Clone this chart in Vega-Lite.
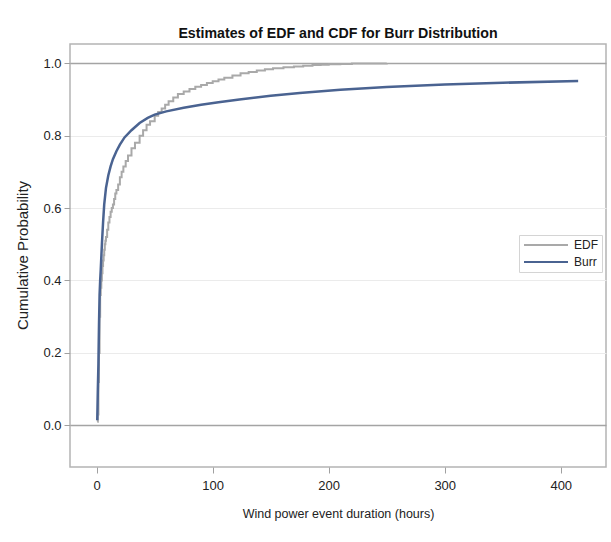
{
  "$schema": "https://vega.github.io/schema/vega-lite/v6.json",
  "width": 536,
  "height": 423,
  "autosize": {"type": "none"},
  "padding": {"left": 70, "top": 44, "right": 5, "bottom": 75},
  "background": "white",
  "title": {
    "text": "Estimates of EDF and CDF for Burr Distribution",
    "anchor": "middle",
    "font": "'Liberation Sans', sans-serif",
    "fontSize": 14.2,
    "fontWeight": "bold",
    "color": "#111111",
    "offset": 6,
    "dy": 3
  },
  "data": {
    "values": [
      {"series": "EDF", "hours": 0.5, "prob": 0.01},
      {"series": "EDF", "hours": 1, "prob": 0.03},
      {"series": "EDF", "hours": 1.5, "prob": 0.12},
      {"series": "EDF", "hours": 2, "prob": 0.2},
      {"series": "EDF", "hours": 2.5, "prob": 0.3},
      {"series": "EDF", "hours": 3, "prob": 0.36},
      {"series": "EDF", "hours": 3.5, "prob": 0.38},
      {"series": "EDF", "hours": 4, "prob": 0.4},
      {"series": "EDF", "hours": 4.5, "prob": 0.42},
      {"series": "EDF", "hours": 5, "prob": 0.44},
      {"series": "EDF", "hours": 5.5, "prob": 0.455},
      {"series": "EDF", "hours": 6, "prob": 0.47},
      {"series": "EDF", "hours": 6.5, "prob": 0.485},
      {"series": "EDF", "hours": 7, "prob": 0.5},
      {"series": "EDF", "hours": 7.5, "prob": 0.51},
      {"series": "EDF", "hours": 8, "prob": 0.52},
      {"series": "EDF", "hours": 9, "prob": 0.54},
      {"series": "EDF", "hours": 10, "prob": 0.56},
      {"series": "EDF", "hours": 11, "prob": 0.575},
      {"series": "EDF", "hours": 12, "prob": 0.59},
      {"series": "EDF", "hours": 13, "prob": 0.6},
      {"series": "EDF", "hours": 14, "prob": 0.61},
      {"series": "EDF", "hours": 15, "prob": 0.625},
      {"series": "EDF", "hours": 16, "prob": 0.64},
      {"series": "EDF", "hours": 17, "prob": 0.65},
      {"series": "EDF", "hours": 18.5, "prob": 0.665},
      {"series": "EDF", "hours": 20, "prob": 0.685},
      {"series": "EDF", "hours": 21.5, "prob": 0.7},
      {"series": "EDF", "hours": 23, "prob": 0.715},
      {"series": "EDF", "hours": 25, "prob": 0.73},
      {"series": "EDF", "hours": 27, "prob": 0.745},
      {"series": "EDF", "hours": 30, "prob": 0.765},
      {"series": "EDF", "hours": 33, "prob": 0.78},
      {"series": "EDF", "hours": 37, "prob": 0.8},
      {"series": "EDF", "hours": 40, "prob": 0.815},
      {"series": "EDF", "hours": 43, "prob": 0.83},
      {"series": "EDF", "hours": 46, "prob": 0.84},
      {"series": "EDF", "hours": 50, "prob": 0.855},
      {"series": "EDF", "hours": 53, "prob": 0.865},
      {"series": "EDF", "hours": 56, "prob": 0.875},
      {"series": "EDF", "hours": 59, "prob": 0.885},
      {"series": "EDF", "hours": 62, "prob": 0.895},
      {"series": "EDF", "hours": 66, "prob": 0.905},
      {"series": "EDF", "hours": 70, "prob": 0.915},
      {"series": "EDF", "hours": 75, "prob": 0.922},
      {"series": "EDF", "hours": 80, "prob": 0.929},
      {"series": "EDF", "hours": 85, "prob": 0.935},
      {"series": "EDF", "hours": 90, "prob": 0.94},
      {"series": "EDF", "hours": 95, "prob": 0.945},
      {"series": "EDF", "hours": 100, "prob": 0.95},
      {"series": "EDF", "hours": 105, "prob": 0.955},
      {"series": "EDF", "hours": 110, "prob": 0.96},
      {"series": "EDF", "hours": 117, "prob": 0.966},
      {"series": "EDF", "hours": 124, "prob": 0.972},
      {"series": "EDF", "hours": 131, "prob": 0.976},
      {"series": "EDF", "hours": 138, "prob": 0.98},
      {"series": "EDF", "hours": 145, "prob": 0.983},
      {"series": "EDF", "hours": 152, "prob": 0.986},
      {"series": "EDF", "hours": 161, "prob": 0.989},
      {"series": "EDF", "hours": 170, "prob": 0.991},
      {"series": "EDF", "hours": 178, "prob": 0.993},
      {"series": "EDF", "hours": 186, "prob": 0.995},
      {"series": "EDF", "hours": 193, "prob": 0.996},
      {"series": "EDF", "hours": 200, "prob": 0.997},
      {"series": "EDF", "hours": 210, "prob": 0.998},
      {"series": "EDF", "hours": 220, "prob": 0.999},
      {"series": "EDF", "hours": 235, "prob": 0.9995},
      {"series": "EDF", "hours": 250, "prob": 1.0},
      {"series": "Burr", "hours": 0.5, "prob": 0.014},
      {"series": "Burr", "hours": 1, "prob": 0.1},
      {"series": "Burr", "hours": 1.5, "prob": 0.17},
      {"series": "Burr", "hours": 2, "prob": 0.28},
      {"series": "Burr", "hours": 2.5, "prob": 0.36},
      {"series": "Burr", "hours": 3, "prob": 0.4},
      {"series": "Burr", "hours": 3.5, "prob": 0.43},
      {"series": "Burr", "hours": 4.5, "prob": 0.5},
      {"series": "Burr", "hours": 5.5, "prob": 0.56},
      {"series": "Burr", "hours": 6.5, "prob": 0.61},
      {"series": "Burr", "hours": 8, "prob": 0.655},
      {"series": "Burr", "hours": 10, "prob": 0.69},
      {"series": "Burr", "hours": 12, "prob": 0.715},
      {"series": "Burr", "hours": 14, "prob": 0.735},
      {"series": "Burr", "hours": 17, "prob": 0.757},
      {"series": "Burr", "hours": 20, "prob": 0.775},
      {"series": "Burr", "hours": 24, "prob": 0.795},
      {"series": "Burr", "hours": 30, "prob": 0.815},
      {"series": "Burr", "hours": 37, "prob": 0.835},
      {"series": "Burr", "hours": 44, "prob": 0.849},
      {"series": "Burr", "hours": 50, "prob": 0.858},
      {"series": "Burr", "hours": 60, "prob": 0.867},
      {"series": "Burr", "hours": 75, "prob": 0.877},
      {"series": "Burr", "hours": 90, "prob": 0.885},
      {"series": "Burr", "hours": 105, "prob": 0.892},
      {"series": "Burr", "hours": 123, "prob": 0.9},
      {"series": "Burr", "hours": 150, "prob": 0.91},
      {"series": "Burr", "hours": 175, "prob": 0.918},
      {"series": "Burr", "hours": 210, "prob": 0.927},
      {"series": "Burr", "hours": 250, "prob": 0.934},
      {"series": "Burr", "hours": 300, "prob": 0.941},
      {"series": "Burr", "hours": 350, "prob": 0.946},
      {"series": "Burr", "hours": 415, "prob": 0.951}
    ]
  },
  "encoding": {
    "x": {
      "field": "hours",
      "type": "quantitative",
      "scale": {"domain": [-23, 439], "nice": false, "zero": false},
      "axis": {
        "title": "Wind power event duration (hours)",
        "values": [0, 100, 200, 300, 400],
        "grid": false,
        "domain": false,
        "tickSize": 6,
        "tickColor": "#a0a0a0",
        "labelPadding": 6,
        "labelFontSize": 13,
        "labelColor": "#222222",
        "labelFont": "'Liberation Sans', sans-serif",
        "titleFont": "'Liberation Sans', sans-serif",
        "titleFontSize": 12.5,
        "titleFontWeight": "normal",
        "titleColor": "#222222",
        "titleBaseline": "middle",
        "titleY": 46
      }
    },
    "y": {
      "field": "prob",
      "type": "quantitative",
      "scale": {"domain": [-0.115, 1.053], "nice": false, "zero": false},
      "axis": {
        "title": "Cumulative Probability",
        "values": [0, 0.2, 0.4, 0.6, 0.8, 1.0],
        "format": ".1f",
        "grid": true,
        "gridColor": {"condition": {"test": "datum.value === 0 || datum.value === 1", "value": "#a4a4a4"}, "value": "#ebebeb"},
        "gridWidth": {"condition": {"test": "datum.value === 0 || datum.value === 1", "value": 1.6}, "value": 1},
        "domain": false,
        "tickSize": 6,
        "tickColor": "#a0a0a0",
        "labelPadding": 3,
        "labelFontSize": 13,
        "labelColor": "#222222",
        "labelFont": "'Liberation Sans', sans-serif",
        "titleFont": "'Liberation Sans', sans-serif",
        "titleFontSize": 15,
        "titleFontWeight": "normal",
        "titleColor": "#222222",
        "titleBaseline": "middle",
        "titleAlign": "center",
        "titleX": -48,
        "titleY": 211
      }
    },
    "color": {
      "field": "series",
      "type": "nominal",
      "scale": {"domain": ["EDF", "Burr"], "range": ["#a9a9a9", "#4a6391"]},
      "legend": {
        "title": null,
        "orient": "none",
        "legendX": 449,
        "legendY": 191,
        "symbolType": "M-1,0H7.8",
        "symbolSize": 100,
        "symbolStrokeWidth": 2,
        "labelFont": "'Liberation Sans', sans-serif",
        "labelFontSize": 12,
        "labelColor": "#222222",
        "labelOffset": 39,
        "rowPadding": 5,
        "padding": 4,
        "strokeColor": "#d4d4d4",
        "fillColor": "white"
      }
    }
  },
  "layer": [
    {
      "transform": [{"filter": "datum.series === 'EDF'"}],
      "mark": {"type": "line", "interpolate": "step-after", "strokeWidth": 2},
      "encoding": {}
    },
    {
      "transform": [{"filter": "datum.series === 'Burr'"}],
      "mark": {"type": "line", "strokeWidth": 2.5},
      "encoding": {}
    }
  ],
  "config": {
    "view": {"stroke": "#b4b4b4", "strokeWidth": 1.5}
  }
}
